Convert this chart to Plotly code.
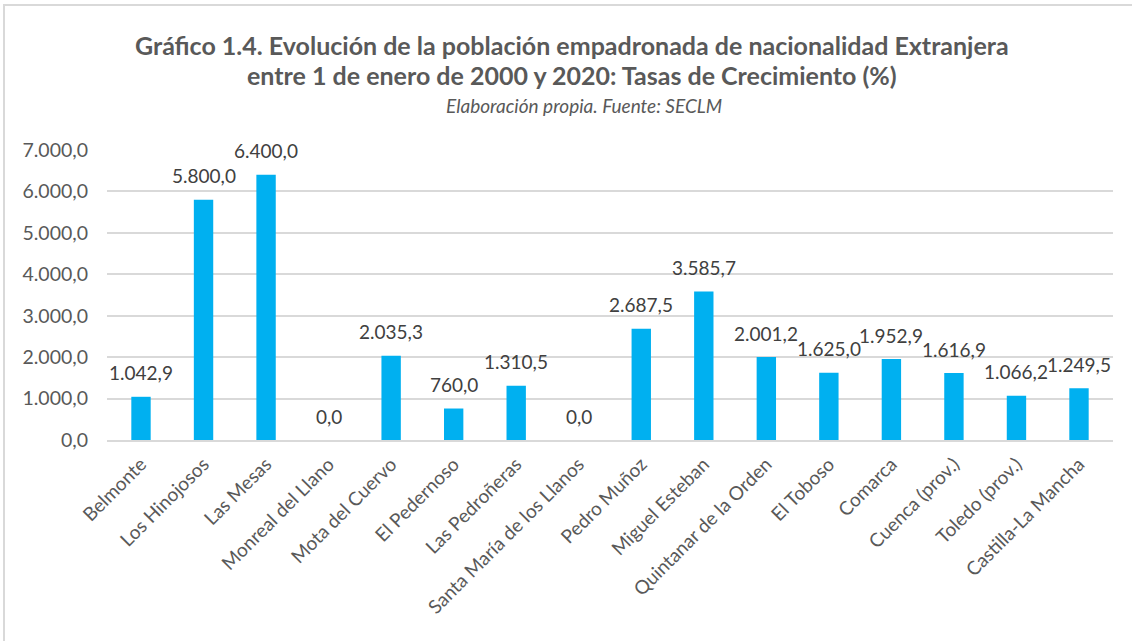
import plotly.graph_objects as go

# categories and growth rates (%)
municipios = [
    "Belmonte", "Los Hinojosos", "Las Mesas", "Monreal del Llano",
    "Mota del Cuervo", "El Pedernoso", "Las Pedroñeras",
    "Santa María de los Llanos", "Pedro Muñoz", "Miguel Esteban",
    "Quintanar de la Orden", "El Toboso", "Comarca", "Cuenca (prov.)",
    "Toledo (prov.)", "Castilla-La Mancha",
]
tasas = [
    1042.9, 5800.0, 6400.0, 0.0, 2035.3, 760.0, 1310.5, 0.0,
    2687.5, 3585.7, 2001.2, 1625.0, 1952.9, 1616.9, 1066.2, 1249.5,
]
y_ticks = [0, 1000, 2000, 3000, 4000, 5000, 6000, 7000]

FONT = "Lato, 'Open Sans', sans-serif"
W, H = 1132, 641
ML, MR, MT, MB = 107, 19, 150, 201
pw, ph = W - ML - MR, H - MT - MB


def px_x(x):
    return (x - ML) / pw


def px_y(y):
    return (H - MB - y) / ph


def fmt(v):
    # Spanish number format: 1.042,9
    return f"{v:,.1f}".replace(",", "X").replace(".", ",").replace("X", ".")


fig = go.Figure(
    go.Bar(
        x=municipios,
        y=tasas,
        marker=dict(color="#00B0F0", line=dict(width=0)),
        hoverinfo="x+y",
    )
)

# data labels sit well above the bars, like Excel's
labels = [
    dict(
        x=m, y=v, xref="x", yref="y", text=fmt(v), showarrow=False,
        yanchor="middle", yshift=24,
        font=dict(size=19, color="#404040", family=FONT),
    )
    for m, v in zip(municipios, tasas)
]

titles = [
    dict(
        text="<b>Gráfico 1.4. Evolución de la población empadronada de nacionalidad Extranjera</b>",
        xref="paper", yref="paper", x=px_x(572), y=px_y(45),
        xanchor="center", yanchor="middle", showarrow=False,
        font=dict(size=25, color="#595959", family=FONT),
    ),
    dict(
        text="<b>entre 1 de enero de 2000 y 2020: Tasas de Crecimiento (%)</b>",
        xref="paper", yref="paper", x=px_x(572), y=px_y(75),
        xanchor="center", yanchor="middle", showarrow=False,
        font=dict(size=25, color="#595959", family=FONT),
    ),
    dict(
        text="<i>Elaboración propia. Fuente: SECLM</i>",
        xref="paper", yref="paper", x=px_x(584), y=px_y(105),
        xanchor="center", yanchor="middle", showarrow=False,
        font=dict(size=19, color="#595959", family=FONT),
    ),
]

fig.update_layout(
    width=W,
    height=H,
    separators=",.",
    paper_bgcolor="white",
    plot_bgcolor="white",
    bargap=0.69,
    showlegend=False,
    font=dict(family=FONT, color="#595959"),
    margin=dict(l=ML, r=MR, t=MT, b=MB, autoexpand=False),
    xaxis=dict(
        tickangle=-45,
        tickfont=dict(size=19, color="#595959"),
        showgrid=False,
        showline=True,
        linecolor="#d9d9d9",
        linewidth=1.5,
        ticks="",
        ticklabelstandoff=4,
    ),
    yaxis=dict(
        range=[0, 7000],
        tickvals=y_ticks,
        tickformat=",.1f",
        tickfont=dict(size=19.5, color="#595959"),
        gridcolor="#d9d9d9",
        gridwidth=1.5,
        zeroline=False,
        ticks="",
        ticklabelstandoff=18,
    ),
    shapes=[
        dict(
            type="rect", xref="paper", yref="paper",
            x0=px_x(4), x1=px_x(W + 10), y0=px_y(H + 10), y1=px_y(5),
            line=dict(color="#d9d9d9", width=2), fillcolor="rgba(0,0,0,0)",
            layer="below",
        )
    ],
    annotations=labels + titles,
)

fig.write_html(
    "out.html",
    config={"displayModeBar": False},
    post_script="document.body.style.margin='0';document.body.style.overflow='hidden';",
)
